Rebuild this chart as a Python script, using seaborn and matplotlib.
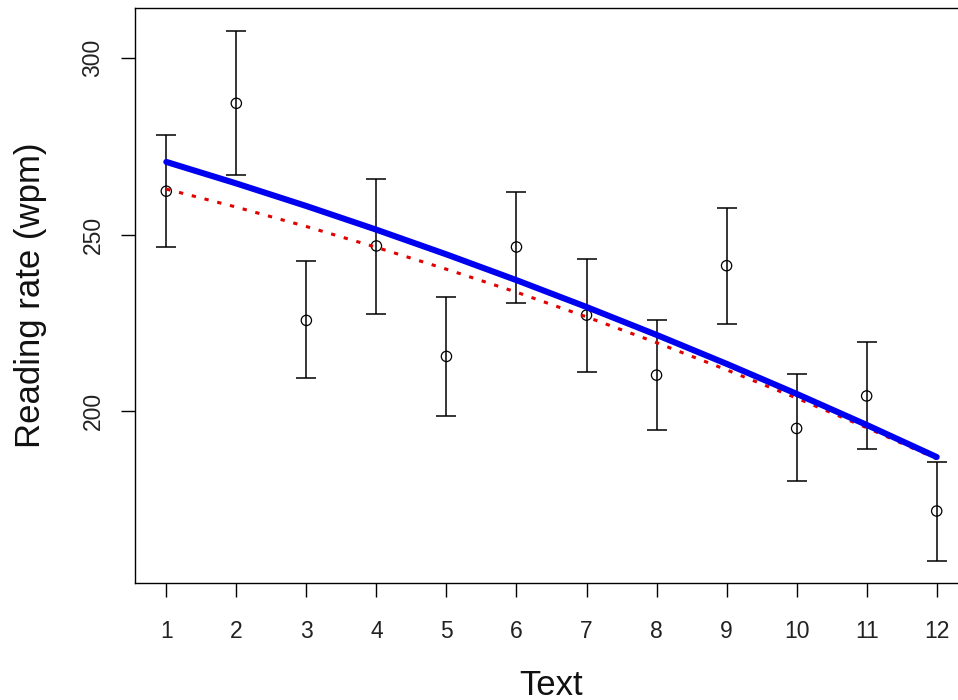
import matplotlib
matplotlib.use("Agg")
import matplotlib.pyplot as plt
import seaborn as sns
import numpy as np
import pandas as pd

# ---- data ----
text_ids = [1, 2, 3, 4, 5, 6, 7, 8, 9, 10, 11, 12]
mean_rate = [262.3, 287.2, 225.7, 246.8, 215.5, 246.5, 227.2, 210.2, 241.2, 195.1, 204.3, 171.7]
upper_ci = [278.2, 307.8, 242.4, 265.8, 232.4, 262.0, 243.0, 225.7, 257.5, 210.6, 219.5, 185.5]
lower_ci = [246.5, 266.9, 209.3, 227.5, 198.7, 230.5, 211.0, 194.7, 224.8, 180.1, 189.4, 157.6]
fit_blue = [270.6, 264.5, 258.1, 251.4, 244.4, 237.1, 229.5, 221.6, 213.4, 204.9, 196.1, 187.0]
fit_red = [262.9, 257.8, 252.3, 246.4, 240.2, 233.7, 226.7, 219.4, 211.7, 203.7, 195.3, 186.5]
x_ticks = [1, 2, 3, 4, 5, 6, 7, 8, 9, 10, 11, 12]
y_ticks = [200, 250, 300]

sns.set_theme(style="white")
plt.rcParams['font.family'] = ['Liberation Sans', 'DejaVu Sans']

df = pd.DataFrame({"text": text_ids, "mean": mean_rate, "lo": lower_ci, "hi": upper_ci,
                   "blue": fit_blue, "red": fit_red})

fig = plt.figure(figsize=(9.58, 7.0), dpi=100)
ax = fig.add_axes([135 / 958, 1 - 582.7 / 700, (968 - 135) / 958, (582.7 - 8) / 700])

yerr = np.vstack([df["mean"] - df["lo"], df["hi"] - df["mean"]])
ax.errorbar(df["text"], df["mean"], yerr=yerr, fmt="none", ecolor="black",
            elinewidth=1.1, capsize=7.5, capthick=1.1, zorder=2)
sns.scatterplot(data=df, x="text", y="mean", ax=ax, marker="o", s=55,
                facecolor="none", edgecolor="black", linewidth=0.9, zorder=3, legend=False)
sns.lineplot(data=df, x="text", y="red", ax=ax, color="#E00000", linewidth=2.2,
             dashes=False, zorder=4, legend=False)
ax.lines[-1].set_dashes((1.4, 2.9))
ax.lines[-1].set_dash_capstyle("butt")
sns.lineplot(data=df, x="text", y="blue", ax=ax, color="#0000F0", linewidth=4.4,
             zorder=5, legend=False)

ax.set_xlim(0.553, 12.447)
ax.set_ylim(151.4, 314.2)
ax.set_xticks(x_ticks)
ax.set_xticklabels([str(t) for t in x_ticks])
ax.set_yticks(y_ticks)
ax.set_yticklabels([str(t) for t in y_ticks], rotation=90, va="center")

for s in ax.spines.values():
    s.set_color("black")
    s.set_linewidth(1.0)

ax.tick_params(axis="both", which="major", direction="out", length=10, width=1.0,
               color="black", labelsize=16.5, labelcolor="#222222", left=True, bottom=True)
ax.tick_params(axis="x", pad=16.5)
ax.tick_params(axis="y", pad=12)

ax.set_xlabel("Text", fontsize=25, color="#111111", labelpad=19)
ax.set_ylabel("Reading rate (wpm)", fontsize=25, color="#111111", labelpad=25)
ax.grid(False)

fig.savefig("out.png", dpi=100)
